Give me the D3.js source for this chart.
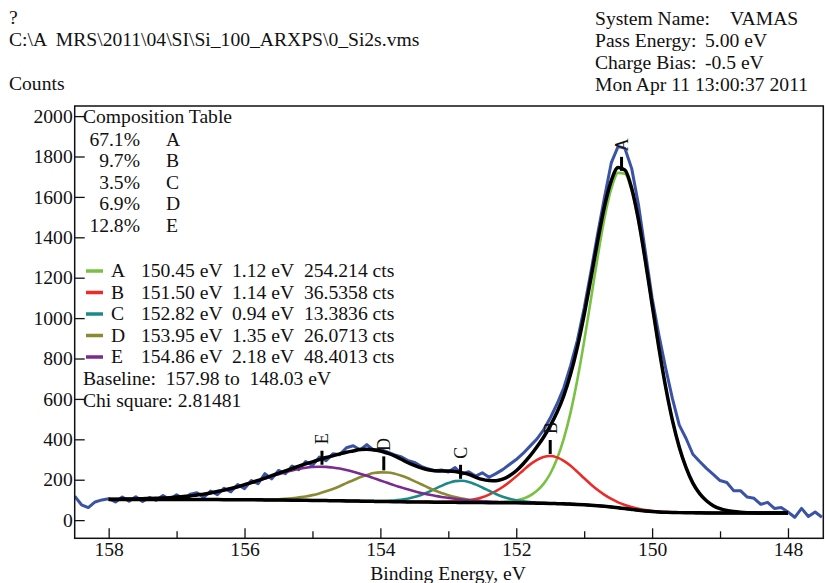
<!DOCTYPE html>
<html>
<head>
<meta charset="utf-8">
<script src="https://cdnjs.cloudflare.com/ajax/libs/d3/7.8.5/d3.min.js"></script>
<style>
  body { margin: 0; background: #fff; }
  text { font-family: "Liberation Serif", "Times New Roman", serif; font-size: 19.6px; fill: #111; white-space: pre; }
</style>
</head>
<body>
<div id="chart"></div>
<script>
// peak table (from the fit report)
var peakNames = ['A', 'B', 'C', 'D', 'E'];
var peakPercent = ['67.1%', '9.7%', '3.5%', '6.9%', '12.8%'];
var peakPos = [150.45, 151.50, 152.82, 153.95, 154.86];
var peakFwhm = [1.12, 1.14, 0.94, 1.35, 2.18];
var peakArea = ['254.214', '36.5358', '13.3836', '26.0713', '48.4013'];
var peakColors = ['#79c143', '#ec2a27', '#1e8a88', '#8a8a32', '#7b2b8b'];

// measured spectrum, 158.5 eV down to 147.5 eV every 0.1 eV
var dataFrom = 158.5;
var counts = [
  118, 76, 62, 90, 100, 106,
  90, 114, 94, 116, 92, 112, 98, 122, 102, 126,
  106, 128, 136, 112, 144, 126, 158, 140, 176, 156,
  196, 180, 230, 204, 246, 230, 268, 250, 290, 270,
  312, 294, 328, 324, 358, 368, 348, 374, 346, 350,
  338, 324, 314, 296, 286, 266, 254, 244, 248, 238,
  260, 228, 240, 218, 234, 212, 230, 250, 275, 300,
  330, 365, 400, 445, 505, 575, 655, 765, 890, 1050,
  1230, 1420, 1600, 1770, 1850, 1840, 1740, 1560, 1330, 1100,
  916, 752, 600, 470, 404, 326, 290, 256, 226, 196,
  186, 146, 146, 114, 108, 78, 88, 58, 62, 40,
  14, 58, 18, 40, 14
];

// fit grid: 158.0 eV down to 148.0 eV every 0.1 eV
var fitFrom = 158.0, fitTo = 148.0, step = 0.1;
var baseline = [
  102, 102, 102, 102, 102, 102, 102, 102, 102, 102, 102,
  102, 101.8, 101.8, 101.7, 101.6, 101.5, 101.4, 101.2, 101, 100.8,
  100.6, 100.4, 100.1, 99.8, 99.5, 99.2, 98.9, 98.5, 98.1, 97.7,
  97.2, 96.7, 96.2, 95.7, 95.1, 94.5, 94, 93.4, 92.8, 92.3,
  91.7, 91.2, 90.7, 90.3, 89.9, 89.5, 89.2, 88.9, 88.6, 88.3,
  88, 87.6, 87.2, 86.9, 86.6, 86.4, 86.2, 86, 85.8, 85.5,
  85.1, 84.6, 84, 83.3, 82.5, 81.6, 80.5, 79.2, 77.8, 76,
  73.8, 71.2, 68.2, 64.8, 61, 57, 53, 49, 45.5, 42.5,
  40.3, 38.8, 37.8, 37.1, 36.6, 36.2, 35.9, 35.7, 35.5, 35.4,
  35.3, 35.2, 35.1, 35.1, 35, 35, 35, 35, 35, 35
];

// components above baseline, each starting at its own energy
var compAFrom = 152.4;
var compA = [1, 2, 4, 7, 12, 21, 36, 60, 95, 147, 222, 323, 454, 618, 810, 1021, 1235, 1429, 1577, 1658,
  1658, 1577, 1429, 1235, 1021, 810, 618, 454, 323, 222, 147, 95, 60, 36, 21, 12, 7, 4, 2, 1];
var compBFrom = 153.5;
var compB = [1, 1, 1, 1, 2, 3, 4, 7, 12, 18, 27, 40, 57, 78, 103, 131, 161, 190, 213, 229, 235,
  229, 213, 190, 161, 131, 103, 78, 57, 40, 27, 18, 12, 7, 4, 3, 2, 1, 1, 1, 1];
var compCFrom = 154.3;
var compC = [1, 1, 1, 2, 3, 6, 10, 15, 24, 35, 49, 65, 81, 95, 105, 107, 102, 90, 75, 59, 43, 30, 20, 13, 8, 5, 3, 1, 1, 1];
var compDFrom = 156.0;
var compD = [1, 1, 1, 2, 3, 4, 6, 9, 14, 19, 26, 35, 46, 58, 72, 88, 103, 118, 130, 140, 144,
  144, 140, 130, 118, 103, 88, 72, 58, 46, 35, 26, 19, 14, 9, 6, 4, 3, 2, 1, 1, 1];
var compEFrom = 158.0;
var compE = [1, 1, 2, 2, 3, 4, 5, 6, 7, 9, 12, 15, 18, 23, 27, 33, 40, 47, 55, 64, 74, 84, 95, 106, 117, 128,
  138, 147, 155, 161, 165, 167, 167, 164, 160, 153, 145, 136, 126, 115, 104, 93, 82, 72, 62, 53, 45, 38,
  32, 26, 22, 18, 14, 11, 9, 7, 6, 4, 3, 3, 2, 2, 1, 1, 1, 1];

var xTicks = [158, 156, 154, 152, 150, 148];
var xMinor = [157, 155, 153, 151, 149];
var yTicks = [0, 200, 400, 600, 800, 1000, 1200, 1400, 1600, 1800, 2000];

var width = 825, height = 583;
var svg = d3.select('#chart').append('svg')
  .attr('width', width)
  .attr('height', height);

var plot = {left: 74.7, right: 823.3, top: 106, bottom: 538.3};

var x = d3.scaleLinear().domain([158.5, 147.48]).range([plot.left, plot.right]);
var y = d3.scaleLinear().domain([-90, 2050]).range([plot.bottom, plot.top]);

// put a component on the common fit grid
var nFit = Math.round((fitFrom - fitTo) / step) + 1;
var fitE = d3.range(nFit).map(function(i){ return fitFrom - i * step; });
var onGrid = function(values, from){
  var out = fitE.map(function(){ return 0; });
  var off = Math.round((fitFrom - from) / step);
  values.forEach(function(v, i){ out[off + i] = v; });
  return out;
};
var comps = [onGrid(compA, compAFrom), onGrid(compB, compBFrom), onGrid(compC, compCFrom),
  onGrid(compD, compDFrom), onGrid(compE, compEFrom)];
var envelope = fitE.map(function(e, i){
  return baseline[i] + d3.sum(comps, function(c){ return c[i]; });
});

svg.append('clipPath').attr('id', 'clip').append('rect')
  .attr('x', plot.left).attr('y', plot.top)
  .attr('width', plot.right - plot.left).attr('height', plot.bottom - plot.top);

var g = svg.append('g').attr('clip-path', 'url(#clip)');

var dataLine = d3.line()
  .x(function(d, i){ return x(dataFrom - i * step); })
  .y(function(d){ return y(d); });
var fitLine = d3.line()
  .x(function(d, i){ return x(fitE[i]); })
  .y(function(d){ return y(d); })
  .curve(d3.curveMonotoneX);

g.append('path').datum(counts)
  .attr('d', dataLine)
  .attr('fill', 'none').attr('stroke', '#3a53a4').attr('stroke-width', 3).attr('stroke-linejoin', 'round');

comps.forEach(function(c, k){
  g.append('path').datum(c.map(function(v, i){ return v + baseline[i]; }))
    .attr('d', fitLine)
    .attr('fill', 'none').attr('stroke', peakColors[k]).attr('stroke-width', 2.6);
});

g.append('path').datum(baseline)
  .attr('d', fitLine)
  .attr('fill', 'none').attr('stroke', '#000').attr('stroke-width', 3.5);
g.append('path').datum(envelope)
  .attr('d', fitLine)
  .attr('fill', 'none').attr('stroke', '#000').attr('stroke-width', 3.5);

// peak markers
peakPos.forEach(function(p, k){
  var top = d3.max(comps[k], function(v, i){ return v + baseline[i]; });
  var px = x(p), py = y(top);
  svg.append('line')
    .attr('x1', px).attr('x2', px).attr('y1', py - 2).attr('y2', py - 16)
    .attr('stroke', '#000').attr('stroke-width', 3);
  svg.append('text')
    .attr('transform', 'translate(' + px + ',' + (py - 28) + ') rotate(-90)')
    .attr('text-anchor', 'middle').attr('dy', '0.35em')
    .style('font-size', '18px')
    .text(peakNames[k]);
});

// frame
svg.append('rect')
  .attr('x', plot.left).attr('y', plot.top)
  .attr('width', plot.right - plot.left).attr('height', plot.bottom - plot.top)
  .attr('fill', 'none').attr('stroke', '#111').attr('stroke-width', 1.5);

// x axis, ticks inside
var xAxis = svg.append('g').attr('transform', 'translate(0,' + plot.bottom + ')')
  .call(d3.axisBottom(x).tickValues(xTicks).tickSize(-10).tickPadding(4).tickFormat(d3.format('d')));
svg.append('g').attr('transform', 'translate(0,' + plot.bottom + ')')
  .call(d3.axisBottom(x).tickValues(xMinor).tickSize(-7).tickFormat(''));
var yAxis = svg.append('g').attr('transform', 'translate(' + plot.left + ',0)')
  .call(d3.axisLeft(y).tickValues(yTicks).tickSize(-10).tickPadding(2).tickFormat(d3.format('d')));
svg.selectAll('.domain').remove();
svg.selectAll('.tick line').attr('stroke', '#111').attr('stroke-width', 1.3);
svg.selectAll('.tick text')
  .style('font-family', '"Liberation Serif", serif').style('font-size', '19.6px').attr('fill', '#111');

svg.append('text').attr('x', 448).attr('y', 580).attr('text-anchor', 'middle')
  .text('Binding Energy, eV');

// header
svg.append('text').attr('x', 9).attr('y', 24).text('?');
svg.append('text').attr('x', 9).attr('y', 46).text('C:\\A  MRS\\2011\\04\\SI\\Si_100_ARXPS\\0_Si2s.vms');
svg.append('text').attr('x', 9).attr('y', 90).text('Counts');

var info = [['System Name:', 'VAMAS', 730], ['Pass Energy:', '5.00 eV', 705], ['Charge Bias:', '-0.5 eV', 705]];
info.forEach(function(r, i){
  svg.append('text').attr('x', 595).attr('y', 25 + i * 22).text(r[0]);
  svg.append('text').attr('x', r[2]).attr('y', 25 + i * 22).text(r[1]);
});
svg.append('text').attr('x', 595).attr('y', 91).text('Mon Apr 11 13:00:37 2011');

// composition table
svg.append('text').attr('x', 83).attr('y', 123).text('Composition Table');
peakNames.forEach(function(n, k){
  var ty = 145.5 + k * 21.6;
  svg.append('text').attr('x', 140).attr('y', ty).attr('text-anchor', 'end').text(peakPercent[k]);
  svg.append('text').attr('x', 166).attr('y', ty).text(n);
});

// fit legend
peakNames.forEach(function(n, k){
  var ty = 277 + k * 21.5;
  svg.append('line').attr('x1', 86).attr('x2', 103).attr('y1', ty - 6).attr('y2', ty - 6)
    .attr('stroke', peakColors[k]).attr('stroke-width', 3.5);
  svg.append('text').attr('x', 111).attr('y', ty).text(n);
  svg.append('text').attr('x', 141).attr('y', ty).text(peakPos[k].toFixed(2) + ' eV');
  svg.append('text').attr('x', 232).attr('y', ty).text(peakFwhm[k].toFixed(2) + ' eV');
  svg.append('text').attr('x', 304).attr('y', ty).text(peakArea[k] + ' cts');
});
svg.append('text').attr('x', 83).attr('y', 385).text('Baseline:  157.98 to  148.03 eV');
svg.append('text').attr('x', 83).attr('y', 406.5).text('Chi square: 2.81481');
</script>
</body>
</html>
